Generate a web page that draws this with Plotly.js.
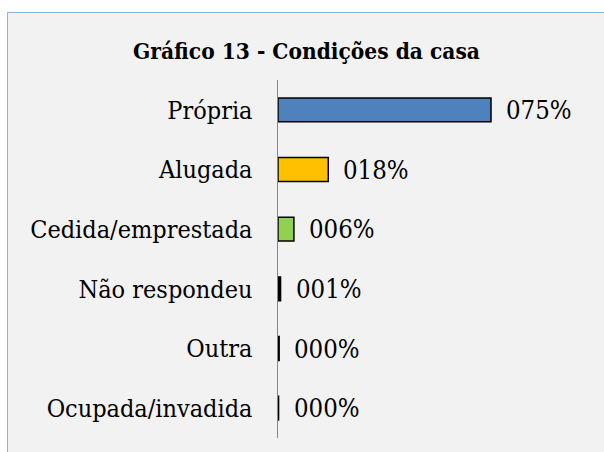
<!DOCTYPE html>
<html>
<head>
<meta charset="utf-8">
<script src="https://cdn.plot.ly/plotly-3.0.1.min.js"></script>
<style>
html,body{margin:0;padding:0;background:#fff;width:604px;height:452px;overflow:hidden;}
#chart{position:absolute;left:7px;top:12px;width:597px;height:440px;box-sizing:border-box;border-left:1.5px solid #8db3e2;border-top:1.5px solid #8db3e2;background:#f2f2f2;}
</style>
</head>
<body>
<div id="chart"></div>
<script>
const categories = ["Própria","Alugada","Cedida/emprestada","Não respondeu","Outra","Ocupada/invadida"];
const values = [0.75, 0.177, 0.056, 0.009, 0.004, 0.002];
const colors = ["#4f81bd","#ffc000","#92d050","#000000","#000000","#7f7f7f"];
const labels = values.map(v => String(Math.round(v*100)).padStart(3,"0") + "%");

const FONT = "DejaVu Serif Condensed, DejaVu Serif, serif";

const trace = {
  type: "bar",
  orientation: "h",
  x: values,
  y: categories,
  marker: {color: colors, line: {color: "#000000", width: 1.5}},
  hoverinfo: "skip"
};

const annotations = values.map((v,i) => ({
  x: v, y: categories[i], xref: "x", yref: "y",
  text: labels[i], showarrow: false, xanchor: "left", yanchor: "middle",
  xshift: 13, font: {family: FONT, size: 25.5, color: "#000"}
}));

const layout = {
  width: 597, height: 440,
  paper_bgcolor: "#f2f2f2", plot_bgcolor: "rgba(0,0,0,0)",
  margin: {l: 270, r: 43, t: 67, b: 15},
  title: {text: "Gráfico 13 - Condições da casa", x: 0.5, xanchor: "center", y: 1, yref: "container", yanchor: "top", pad: {t: 30},
          font: {family: FONT, size: 22.5, color: "#000", weight: "bold"}},
  showlegend: false,
  bargap: 0.6,
  xaxis: {range: [0, 1], showgrid: false, zeroline: false, showticklabels: false, showline: false, fixedrange: true},
  yaxis: {autorange: "reversed", showline: true, linecolor: "#868686", linewidth: 1.5, ticks: "outside", ticklen: 19, tickcolor: "rgba(0,0,0,0)",
          tickfont: {family: FONT, size: 25, color: "#000"}, showgrid: false, fixedrange: true},
  annotations: annotations
};

Plotly.newPlot("chart", [trace], layout, {displayModeBar: false, staticPlot: true});
</script>
</body>
</html>
